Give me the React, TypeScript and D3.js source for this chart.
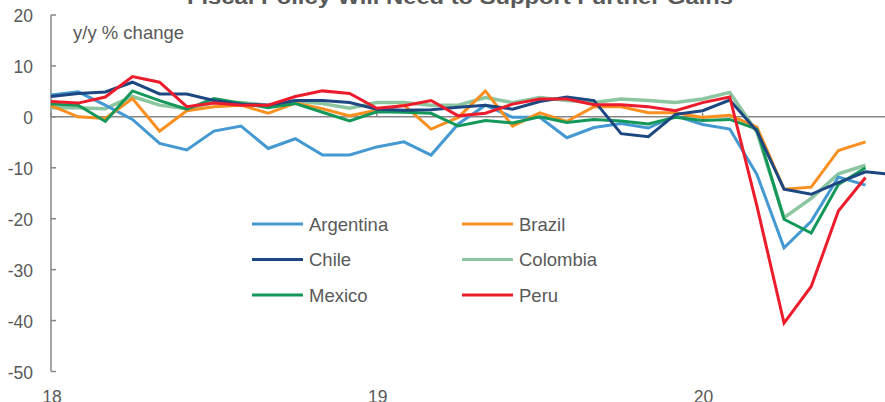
import React from "react";
import * as d3 from "d3";

// Monthly observations, Jan 2018 onward (index 0 = Jan 2018)
const argentina = [4.3, 4.9, 2.3, -0.5, -5.2, -6.5, -2.8, -1.8, -6.2, -4.3, -7.5, -7.5, -5.9, -4.9, -7.5, -1.4, 2.3, -0.1, -0.1, -4.1, -2.1, -1.3, -2.2, 0.2, -1.5, -2.4, -11.3, -25.7, -20.5, -11.8, -13.4];
const brazil = [2.2, 0.0, -0.3, 3.6, -2.8, 1.2, 2.0, 2.3, 0.7, 2.7, 1.6, 0.2, 1.3, 2.3, -2.4, -0.1, 5.1, -1.8, 0.8, -0.9, 2.0, 2.0, 0.8, 0.8, -0.1, 0.3, -2.0, -14.2, -13.8, -6.6, -4.9];
const chile = [4.0, 4.6, 4.9, 6.8, 4.5, 4.5, 3.2, 2.5, 2.3, 3.2, 3.2, 2.8, 1.5, 1.3, 1.4, 1.9, 2.3, 1.5, 3.0, 3.9, 3.2, -3.3, -3.9, 0.5, 1.2, 3.3, -2.8, -14.2, -15.2, -12.9, -10.8, -11.3];
const colombia = [1.8, 1.8, 1.6, 4.0, 2.3, 1.6, 2.8, 2.8, 2.3, 3.1, 2.6, 1.7, 2.8, 2.8, 2.3, 2.3, 3.8, 2.8, 3.8, 3.2, 2.8, 3.5, 3.2, 2.8, 3.5, 4.8, -3.0, -19.8, -16.0, -11.2, -9.5];
const mexico = [2.5, 2.3, -0.9, 5.1, 3.2, 1.5, 3.6, 2.7, 1.8, 2.6, 0.9, -0.8, 1.0, 0.9, 0.7, -1.8, -0.7, -1.2, 0.0, -1.1, -0.5, -0.8, -1.4, -0.1, -0.7, -0.5, -2.4, -20.1, -22.8, -13.3, -10.0];
const peru = [3.0, 2.7, 3.9, 7.9, 6.8, 2.0, 2.7, 2.3, 2.3, 4.0, 5.1, 4.6, 1.7, 2.2, 3.2, 0.2, 0.7, 2.5, 3.5, 3.5, 2.4, 2.4, 2.0, 1.2, 2.8, 3.9, -17.5, -40.5, -33.3, -18.5, -11.9];

const yTicks = [20, 10, 0, -10, -20, -30, -40, -50];
const yearTicks = [0, 12, 24];
const yearLabels = ["18", "19", "20"];

const series = [
  { name: "Colombia", values: colombia, color: "#8CC6A0" },
  { name: "Argentina", values: argentina, color: "#4499D2" },
  { name: "Brazil", values: brazil, color: "#F98F1F" },
  { name: "Mexico", values: mexico, color: "#14985A" },
  { name: "Chile", values: chile, color: "#1D4780" },
  { name: "Peru", values: peru, color: "#EC1C2D" },
];

const legendOrder = [
  ["Argentina", "Brazil"],
  ["Chile", "Colombia"],
  ["Mexico", "Peru"],
];

const W = 885;
const H = 402;
const textColor = "#595959";
const axisColor = "#868686";
const font = "Liberation Sans, Arial, sans-serif";

export default function App() {
  const x = d3.scaleLinear().domain([0, 12]).range([51, 376.8]);
  const y = d3.scaleLinear().domain([-50, 20]).range([371.5, 15]);
  const line = d3
    .line<number>()
    .x((_, i) => x(i))
    .y((d) => y(d));

  const colorOf = (n: string) => series.find((s) => s.name === n)!.color;

  return (
    <svg
      width={W}
      height={H}
      style={{ position: "absolute", left: 0, top: 0, background: "#fff" }}
      fontFamily={font}
    >
      {/* title, partly above the top edge */}
      <text
        x={460}
        y={4}
        textAnchor="middle"
        fontSize={21}
        fontWeight="bold"
        fill={textColor}
        textLength={546}
        lengthAdjust="spacingAndGlyphs"
      >
        Fiscal Policy Will Need to Support Further Gains
      </text>

      {/* y axis */}
      <line x1={x(0)} x2={x(0)} y1={y(20)} y2={y(-50)} stroke={axisColor} strokeWidth={1.5} />
      {yTicks.map((t) => (
        <g key={t}>
          <line x1={x(0)} x2={x(0) + 5} y1={y(t)} y2={y(t)} stroke={axisColor} strokeWidth={1.5} />
          <text x={33} y={y(t) + 7} textAnchor="end" fontSize={17.5} fill={textColor}>
            {t}
          </text>
        </g>
      ))}

      {/* zero line with year ticks */}
      <line x1={x(0)} x2={W} y1={y(0)} y2={y(0)} stroke={axisColor} strokeWidth={1.5} />
      {yearTicks.map((m, i) => (
        <g key={m}>
          <line x1={x(m)} x2={x(m)} y1={y(0) - 4} y2={y(0)} stroke={axisColor} strokeWidth={1.5} />
          <text x={x(m) + 1} y={403} textAnchor="middle" fontSize={17.5} fill={textColor}>
            {yearLabels[i]}
          </text>
        </g>
      ))}

      <text x={73} y={39} fontSize={18.5} fill={textColor}>
        y/y % change
      </text>

      {/* series */}
      {series.map((s) => (
        <path
          key={s.name}
          d={line(s.values) || ""}
          fill="none"
          stroke={s.color}
          strokeWidth={s.name === "Colombia" ? 3.5 : 3}
          strokeLinejoin="miter"
        />
      ))}

      {/* legend */}
      {legendOrder.map((row, r) =>
        row.map((name, c) => {
          const lx = c === 0 ? 252 : 462;
          const ly = 224 + r * 35.5;
          return (
            <g key={name}>
              <line x1={lx} x2={lx + 51} y1={ly} y2={ly} stroke={colorOf(name)} strokeWidth={3} />
              <text x={lx + 57} y={ly + 6.5} fontSize={18.5} fill={textColor}>
                {name}
              </text>
            </g>
          );
        })
      )}
    </svg>
  );
}
